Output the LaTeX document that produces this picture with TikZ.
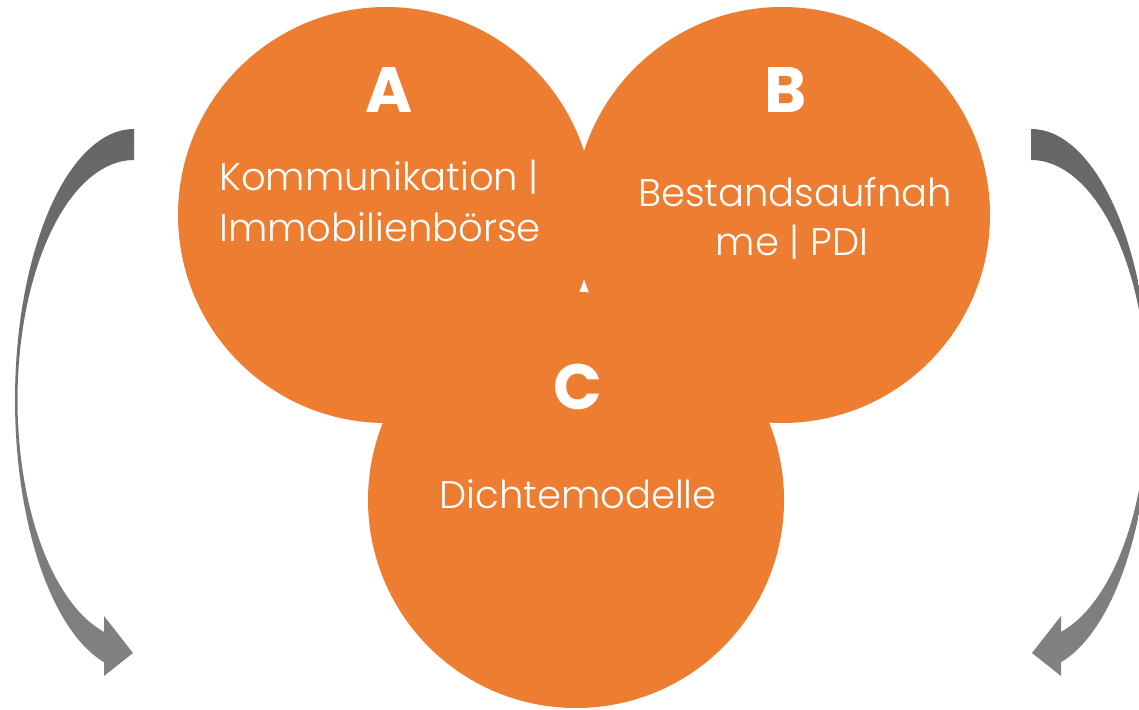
\documentclass[tikz,border=0pt]{standalone}
\usepackage{fontspec}
\IfFontExistsTF{Poppins-Light}{\newfontfamily\bodyfont{Poppins-Light}}{%
  \IfFontExistsTF{Poppins Light}{\newfontfamily\bodyfont{Poppins Light}}{\newfontfamily\bodyfont{Poppins}}}
\newfontfamily\letterfont{Poppins}
\definecolor{ppOrange}{HTML}{ED7D31}
\definecolor{arrTop}{HTML}{666666}
\definecolor{arrBot}{HTML}{828282}
\tikzset{
  bubble/.style={circle, fill=ppOrange, draw=none, inner sep=0pt, minimum size=416pt},
  letter/.style={anchor=base, text=white, inner sep=0pt, font=\letterfont\bfseries\fontsize{64}{64}\selectfont},
  body/.style={anchor=base, text=white, inner sep=0pt, font=\bodyfont\fontsize{38.5}{46}\selectfont},
  cyclearrow/.style={top color=arrTop, bottom color=arrBot, draw=none}
}
\newcommand{\cyclearrowpath}{%
  (134,129) -- plot[domain=270:104.6, samples=90] ({134+119*cos(\x)},{400+271*sin(\x)})
  -- (104,676) -- (133,653) -- (104,616) -- (104,632)
  -- plot[domain=104.9:270, samples=90] ({134+116.5*cos(\x)},{400+240*sin(\x)}) -- cycle}
\begin{document}
\begin{tikzpicture}[x=1pt, y=-1pt]
  \useasboundingbox (0,0) rectangle (1139,709);
  \fill[white] (0,0) rectangle (1139,709);
  % circles
  \node[bubble] (A) at (386,215) {};
  \node[bubble] (B) at (782,215) {};
  \node[bubble] (C) at (576,500) {};
  % letters
  \node[letter] (la) at (389,112) {A};
  \node[letter] (lb) at (786,112) {B};
  \node[letter] (lc) at (578,409) {C};
  % texts
  \node[body] (a1) at (379,190) {Kommunikation |};
  \node[body] (a2) at (380,241) {Immobilienbörse};
  \node[body] (b1) at (795,206) {Bestandsaufnah};
  \node[body] (b2) at (792,255) {me | PDI};
  \node[body] (c1) at (578,508) {Dichtemodelle};
  % cycle arrows
  \shade[cyclearrow] \cyclearrowpath;
  \begin{scope}[shift={(1165,0)}, xscale=-1]
    \shade[cyclearrow] \cyclearrowpath;
  \end{scope}
\end{tikzpicture}
\end{document}
